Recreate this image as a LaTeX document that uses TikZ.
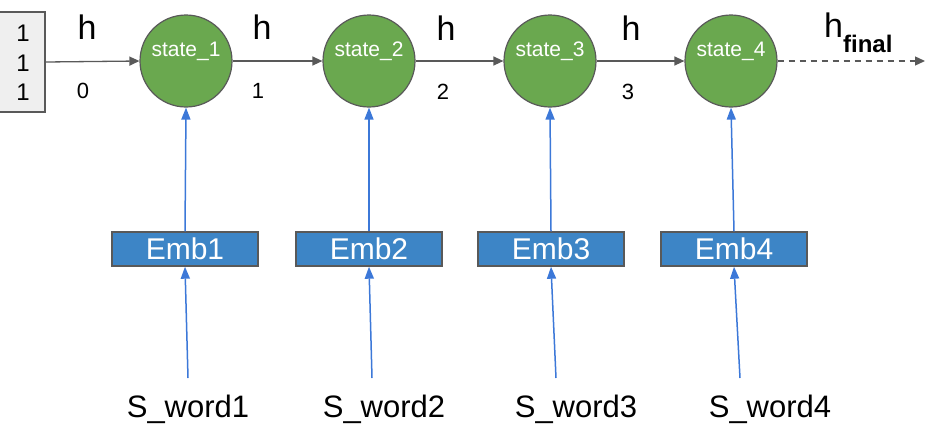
\documentclass[tikz,border=0pt]{standalone}
\usepackage{fontspec}
\setmainfont{Liberation Sans}
\usetikzlibrary{arrows.meta}
\definecolor{stgreen}{HTML}{6AA84F}
\definecolor{edgegray}{HTML}{595959}
\definecolor{embblue}{HTML}{3D85C6}
\definecolor{arrblue}{HTML}{3C78D8}
\definecolor{boxgray}{HTML}{EFEFEF}
\tikzset{
  statenode/.style={circle, draw=edgegray, line width=1.2pt, fill=stgreen, minimum size=92pt, inner sep=0pt},
  statetxt/.style={text=white, font=\fontsize{21}{21}\selectfont, anchor=base, inner sep=0pt},
  embnode/.style={draw=edgegray, line width=1.4pt, fill=embblue, minimum width=146pt, minimum height=34pt, inner sep=0pt, text=white, font=\fontsize{30}{30}\selectfont},
  hlabel/.style={font=\fontsize{34}{34}\selectfont, anchor=base, inner sep=0pt},
  numlabel/.style={font=\fontsize{22}{22}\selectfont, anchor=base, inner sep=0pt},
  wordlabel/.style={font=\fontsize{31}{31}\selectfont, anchor=base, inner sep=0pt},
  onelabel/.style={font=\fontsize{24}{24}\selectfont, anchor=base, inner sep=0pt},
  grayarrow/.style={draw=edgegray, line width=1.3pt, -{Triangle[length=10pt,width=9pt]}},
  bluearrow/.style={draw=arrblue, line width=1.5pt, -{Triangle[length=12pt,width=9pt]}},
}
\begin{document}
\begin{tikzpicture}[x=1pt,y=-1pt]
\useasboundingbox (0,0) rectangle (926,424);
% initial box
\node[draw=edgegray, line width=1.2pt, fill=boxgray, minimum width=46pt, minimum height=100pt, inner sep=0pt] (init) at (22,62) {};
\node[onelabel] (o1) at (23,41) {1};
\node[onelabel] (o2) at (23,71) {1};
\node[onelabel] (o3) at (23,100) {1};
% states
\node[statenode] (s1) at (186,61) {};
\node[statenode] (s2) at (369,61) {};
\node[statenode] (s3) at (550,61) {};
\node[statenode] (s4) at (731,61) {};
\node[statetxt] (t1) at (186,56) {state\_1};
\node[statetxt] (t2) at (369,56) {state\_2};
\node[statetxt] (t3) at (550,56) {state\_3};
\node[statetxt] (t4) at (731,56) {state\_4};
% h labels
\node[hlabel] (h0) at (87,39) {h};
\node[hlabel] (h1) at (262,39) {h};
\node[hlabel] (h2) at (446,40) {h};
\node[hlabel] (h3) at (631,40) {h};
\node[font=\fontsize{34}{34}\selectfont, anchor=base west, inner sep=0pt] (hf) at (824,37) {h\raisebox{-15pt}{\fontsize{24}{24}\selectfont\bfseries final}};
% numbers
\node[numlabel] (n0) at (83,98) {0};
\node[numlabel] (n1) at (258,98) {1};
\node[numlabel] (n2) at (443,99) {2};
\node[numlabel] (n3) at (628,99) {3};
% horizontal arrows
\draw[grayarrow] (init.east) -- (s1.west);
\draw[grayarrow] (s1.east) -- (s2.west);
\draw[grayarrow] (s2.east) -- (s3.west);
\draw[grayarrow] (s3.east) -- (s4.west);
\coordinate (fend) at (925,61);
\draw[grayarrow, dash pattern=on 6pt off 5pt] (s4.east) -- (fend);
% embeddings
\node[embnode] (e1) at (185,249) {Emb1};
\node[embnode] (e2) at (369,249) {Emb2};
\node[embnode] (e3) at (551,249) {Emb3};
\node[embnode] (e4) at (734,249) {Emb4};
% words
\node[wordlabel] (w1) at (188,417) {S\_word1};
\node[wordlabel] (w2) at (384,417) {S\_word2};
\node[wordlabel] (w3) at (576,417) {S\_word3};
\node[wordlabel] (w4) at (770,417) {S\_word4};
\coordinate (b1) at (188,378);
\coordinate (b2) at (372,378);
\coordinate (b3) at (556,378);
\coordinate (b4) at (740,378);
% blue arrows
\draw[bluearrow] (b1) -- (e1.south);
\draw[bluearrow] (b2) -- (e2.south);
\draw[bluearrow] (b3) -- (e3.south);
\draw[bluearrow] (b4) -- (e4.south);
\draw[bluearrow] (e1.north) -- (s1.south);
\draw[bluearrow] (e2.north) -- (s2.south);
\draw[bluearrow] (e3.north) -- (s3.south);
\draw[bluearrow] (e4.north) -- (s4.south);
\end{tikzpicture}
\end{document}
